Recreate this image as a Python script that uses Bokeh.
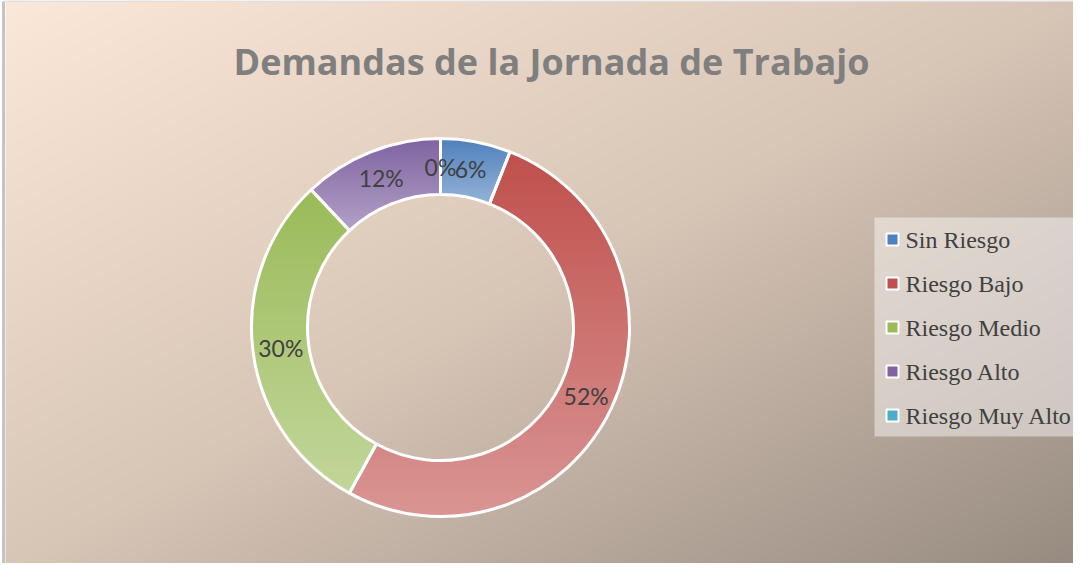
import numpy as np
from bokeh.plotting import figure
from bokeh.models import Range1d, ColumnDataSource
from bokeh.core.properties import value
from bokeh.embed import file_html
from bokeh.resources import INLINE

# ---- data ----
title = "Demandas de la Jornada de Trabajo"
categories = ["Sin Riesgo", "Riesgo Bajo", "Riesgo Medio", "Riesgo Alto", "Riesgo Muy Alto"]
percentages = [6, 52, 30, 12, 0]
colors = ["#4f81bd", "#c0504d", "#9bbb59", "#8064a2", "#4bacc6"]

W, H = 1073, 563
p = figure(width=W, height=H, x_range=Range1d(0, W), y_range=Range1d(0, H),
           output_backend="svg", toolbar_location=None,
           x_axis_location=None, y_axis_location=None, min_border=0,
           outline_line_color=None, background_fill_color="white",
           border_fill_color="white")
p.grid.visible = False

# ---- background gradient (styling) ----
bx0, bw, bh = 5, W - 5, H - 1
gx = bx0 + np.arange(bw) + 0.5
gy = np.arange(bh) + 0.5
GX, GY = np.meshgrid(gx, gy)
px = GX + 8
py = 571 - GY
t = ((px - 13) / 1076 + (py - 9) / 570) / 2
stops = [0, 0.5, 1]
bg = np.zeros((bh, bw, 4), dtype=np.uint8)
for k, vals in enumerate([[252, 215, 150], [232, 197, 138], [216, 182, 128]]):
    bg[..., k] = np.interp(t, stops, vals).astype(np.uint8)
bg[..., 3] = 255
p.image_rgba(image=[bg.view(np.uint32).reshape(bh, bw)], x=bx0, y=0, dw=bw, dh=bh)
p.segment(x0=[3], y0=[0], x1=[3], y1=[H - 1], line_color="#c4c4c4", line_width=3)
p.segment(x0=[3], y0=[H - 0.5], x1=[W], y1=[H - 0.5], line_color="#dadada", line_width=1.5)

# ---- donut ----
cx, cy = 440, 236
R_out, R_in = 189, 133
vals = np.array(percentages, dtype=float)
fr = vals / vals.sum()
cum = np.concatenate([[0], np.cumsum(fr)])
start = np.pi / 2 - 2 * np.pi * cum[1:]
end = np.pi / 2 - 2 * np.pi * cum[:-1]

keep = [i for i, v in enumerate(percentages) if v > 0]
wsrc = ColumnDataSource(dict(start=[start[i] for i in keep], end=[end[i] for i in keep],
                             color=[colors[i] for i in keep]))
p.annular_wedge(x=cx, y=cy, inner_radius=R_in, outer_radius=R_out,
                start_angle="start", end_angle="end", direction="anticlock",
                fill_color="color", line_color=None, source=wsrc)

# vertical light gradient per slice (styling overlay)
N = 2 * R_out
xs = cx - R_out + np.arange(N) + 0.5
ys = cy - R_out + np.arange(N) + 0.5
X, Y = np.meshgrid(xs, ys)
dx, dy = X - cx, Y - cy
r = np.hypot(dx, dy)
f = np.mod(np.arctan2(dx, dy), 2 * np.pi) / (2 * np.pi)
idx = np.clip(np.searchsorted(cum, f, side="right") - 1, 0, len(fr) - 1)
ytop = np.zeros(len(fr)); ybot = np.zeros(len(fr))
for s in range(len(fr)):
    a = np.linspace(cum[s], cum[s + 1], 300) * 2 * np.pi
    yy = np.concatenate([cy + R_out * np.cos(a), cy + R_in * np.cos(a)])
    ytop[s], ybot[s] = yy.max(), yy.min()
span = np.maximum(ytop - ybot, 1)
alpha = 0.4 * (ytop[idx] - Y) / span[idx]
alpha = np.clip(alpha, 0, 1) * ((r >= R_in) & (r <= R_out))
ov = np.zeros((N, N, 4), dtype=np.uint8)
ov[..., :3] = 255
ov[..., 3] = (alpha * 255).astype(np.uint8)
p.image_rgba(image=[ov.view(np.uint32).reshape(N, N)], x=cx - R_out, y=cy - R_out, dw=N, dh=N)

p.annular_wedge(x=cx, y=cy, inner_radius=R_in, outer_radius=R_out,
                start_angle="start", end_angle="end", direction="anticlock",
                fill_color=None, line_color="white", line_width=3, source=wsrc)

# ---- percentage labels ----
R_mid = (R_in + R_out) / 2
mid = (cum[:-1] + cum[1:]) / 2 * 2 * np.pi
lsrc = ColumnDataSource(dict(x=cx + R_mid * np.sin(mid), y=cy + R_mid * np.cos(mid),
                             t=[f"{v}%" for v in percentages]))
p.text(x="x", y="y", text="t", source=lsrc, text_align="center", text_baseline="middle",
       text_font=value("Lato"), text_font_size="23px", text_color="#404040")

# ---- title ----
p.text(x=[551], y=[502], text=[title], text_align="center", text_baseline="alphabetic",
       text_font=value("Open Sans"), text_font_style="bold", text_font_size="36px",
       text_color="#7f7f7f")

# ---- legend ----
p.quad(left=[874], right=[W], top=[346], bottom=[127], fill_color="white",
       fill_alpha=0.45, line_color=None)
ly = [571 - (247 + 44 * i) for i in range(len(categories))]
gsrc = ColumnDataSource(dict(x=[892] * len(categories), y=ly, c=colors,
                             tx=[905] * len(categories), t=categories))
p.scatter(x="x", y="y", marker="square", size=12, fill_color="c", line_color="white",
          line_width=2, source=gsrc)
p.text(x="tx", y="y", text="t", source=gsrc, text_align="left", text_baseline="middle",
       text_font=value("Liberation Serif"), text_font_size="24px", text_color="#404040")

open("out.html", "w").write(file_html(p, INLINE))
